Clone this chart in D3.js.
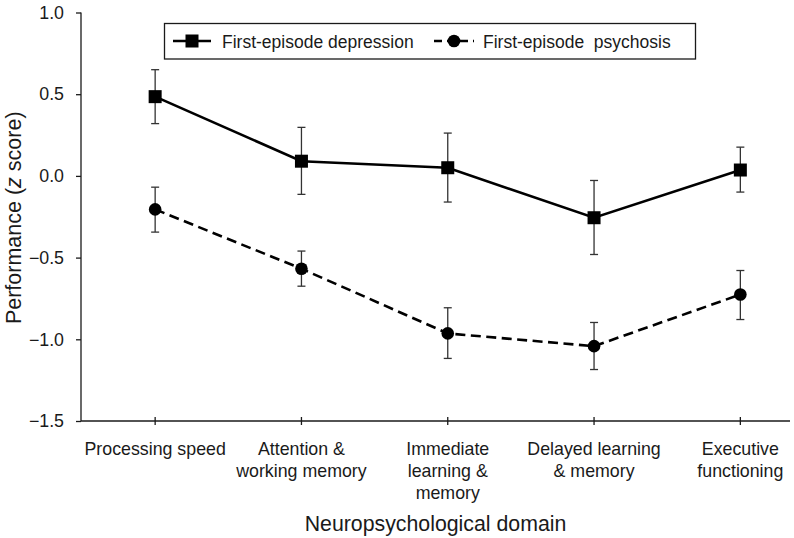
<!DOCTYPE html>
<html>
<head>
<meta charset="utf-8">
<script src="https://cdn.jsdelivr.net/npm/d3@7"></script>
<style>
  html, body { margin: 0; padding: 0; background: #fff; }
  svg { display: block; }
  text { font-family: "Liberation Sans", Arial, Helvetica, sans-serif; fill: #1a1a1a; }
</style>
</head>
<body>
<svg id="chart" width="794" height="538"></svg>
<script>
// ---- data ----
const categories = ["Processing speed", "Attention & working memory", "Immediate learning & memory", "Delayed learning & memory", "Executive functioning"];
const categoryLines = [["Processing speed"], ["Attention &", "working memory"], ["Immediate", "learning &", "memory"], ["Delayed learning", "& memory"], ["Executive", "functioning"]];
const depression = [0.485, 0.09, 0.05, -0.256, 0.036];
const depressionLow = [0.32, -0.113, -0.16, -0.481, -0.099];
const depressionHigh = [0.65, 0.297, 0.262, -0.028, 0.176];
const psychosis = [-0.205, -0.568, -0.964, -1.042, -0.726];
const psychosisLow = [-0.344, -0.675, -1.117, -1.185, -0.879];
const psychosisHigh = [-0.069, -0.46, -0.807, -0.897, -0.579];
const yTicks = [1.0, 0.5, 0.0, -0.5, -1.0, -1.5];
const seriesNames = ["First-episode depression", "First-episode  psychosis"];
const xTitle = "Neuropsychological domain";

// ---- layout ----
const svg = d3.select("#chart");
const axisLeft = 81, axisRight = 790, axisTop = 12.5, axisBottom = 421;
const x = d3.scalePoint().domain(categories).range([82, 813.5]).padding(0.5);
const y = d3.scaleLinear().domain([-1.5, 1.0]).range([axisBottom, axisTop]);
const ink = "#1a1a1a";

// y axis
const yAxis = d3.axisLeft(y).tickValues(yTicks).tickFormat(d3.format(".1f")).tickSize(5).tickPadding(12);
const gy = svg.append("g").attr("transform", `translate(${axisLeft},0)`).call(yAxis);
gy.select(".domain").attr("stroke", ink).attr("stroke-width", 1.3).attr("d", `M0,${axisTop}V${axisBottom}`);
gy.selectAll(".tick line").attr("stroke", ink).attr("stroke-width", 1.3);
gy.selectAll(".tick text").attr("font-size", 17.8).attr("fill", ink)
  .attr("font-family", "'Liberation Sans', Arial, sans-serif");

// x axis line
svg.append("line").attr("x1", axisLeft).attr("x2", axisRight).attr("y1", axisBottom).attr("y2", axisBottom)
  .attr("stroke", ink).attr("stroke-width", 1.3);
// x ticks (crossing)
svg.append("g").selectAll("line").data(categories).join("line")
  .attr("x1", d => x(d)).attr("x2", d => x(d))
  .attr("y1", axisBottom - 4).attr("y2", axisBottom + 4)
  .attr("stroke", ink).attr("stroke-width", 1.3);
// x category labels
const catG = svg.append("g");
categories.forEach((c, i) => {
  const t = catG.append("text").attr("x", x(c)).attr("y", 455)
    .attr("text-anchor", "middle").attr("font-size", 17.8);
  categoryLines[i].forEach((ln, j) => {
    t.append("tspan").attr("x", x(c)).attr("dy", j === 0 ? 0 : 22).text(ln);
  });
});

// axis titles
svg.append("text").attr("x", (axisLeft + axisRight) / 2).attr("y", 531)
  .attr("text-anchor", "middle").attr("font-size", 21.3).text(xTitle);
const yt = svg.append("text").attr("transform", `translate(21,${(axisTop + axisBottom) / 2 + 1}) rotate(-90)`)
  .attr("text-anchor", "middle").attr("font-size", 21.5);
yt.append("tspan").text("Performance (");
yt.append("tspan").attr("font-style", "italic").text("z");
yt.append("tspan").text(" score)");

// error bars
function errorBars(vals, lows, highs) {
  const g = svg.append("g").attr("stroke", "#333").attr("stroke-width", 1.3).attr("fill", "none");
  categories.forEach((c, i) => {
    const cx = x(c);
    g.append("line").attr("x1", cx).attr("x2", cx).attr("y1", y(highs[i])).attr("y2", y(lows[i]));
    g.append("line").attr("x1", cx - 4).attr("x2", cx + 4).attr("y1", y(highs[i])).attr("y2", y(highs[i]));
    g.append("line").attr("x1", cx - 4).attr("x2", cx + 4).attr("y1", y(lows[i])).attr("y2", y(lows[i]));
  });
}
errorBars(depression, depressionLow, depressionHigh);
errorBars(psychosis, psychosisLow, psychosisHigh);

const line = d3.line().x((d, i) => x(categories[i])).y(d => y(d));
svg.append("path").datum(depression).attr("d", line).attr("fill", "none")
  .attr("stroke", "#000").attr("stroke-width", 2.6);
svg.append("path").datum(psychosis).attr("d", line).attr("fill", "none")
  .attr("stroke", "#000").attr("stroke-width", 2.6).attr("stroke-dasharray", "10,5.5");

const sq = 13;
svg.append("g").selectAll("rect").data(depression).join("rect")
  .attr("x", (d, i) => x(categories[i]) - sq / 2).attr("y", d => y(d) - sq / 2)
  .attr("width", sq).attr("height", sq).attr("fill", "#000");
svg.append("g").selectAll("circle").data(psychosis).join("circle")
  .attr("cx", (d, i) => x(categories[i])).attr("cy", d => y(d)).attr("r", 6.3).attr("fill", "#000");

// legend
const lg = svg.append("g");
lg.append("rect").attr("x", 164.5).attr("y", 23.5).attr("width", 531).attr("height", 35.5)
  .attr("fill", "#fff").attr("stroke", ink).attr("stroke-width", 1.3);
const ly = 41;
lg.append("line").attr("x1", 173).attr("x2", 211).attr("y1", ly).attr("y2", ly).attr("stroke", "#000").attr("stroke-width", 2.6);
lg.append("rect").attr("x", 192 - sq / 2).attr("y", ly - sq / 2).attr("width", sq).attr("height", sq).attr("fill", "#000");
lg.append("text").attr("x", 222).attr("y", ly + 6.5).attr("font-size", 17.5).text(seriesNames[0]);
lg.append("line").attr("x1", 434).attr("x2", 474).attr("y1", ly).attr("y2", ly).attr("stroke", "#000").attr("stroke-width", 2.6).attr("stroke-dasharray", "8,5");
lg.append("circle").attr("cx", 454).attr("cy", ly).attr("r", 6.3).attr("fill", "#000");
lg.append("text").attr("x", 483).attr("y", ly + 6.5).attr("font-size", 17.5).style("white-space", "pre").text(seriesNames[1]);
</script>
</body>
</html>
